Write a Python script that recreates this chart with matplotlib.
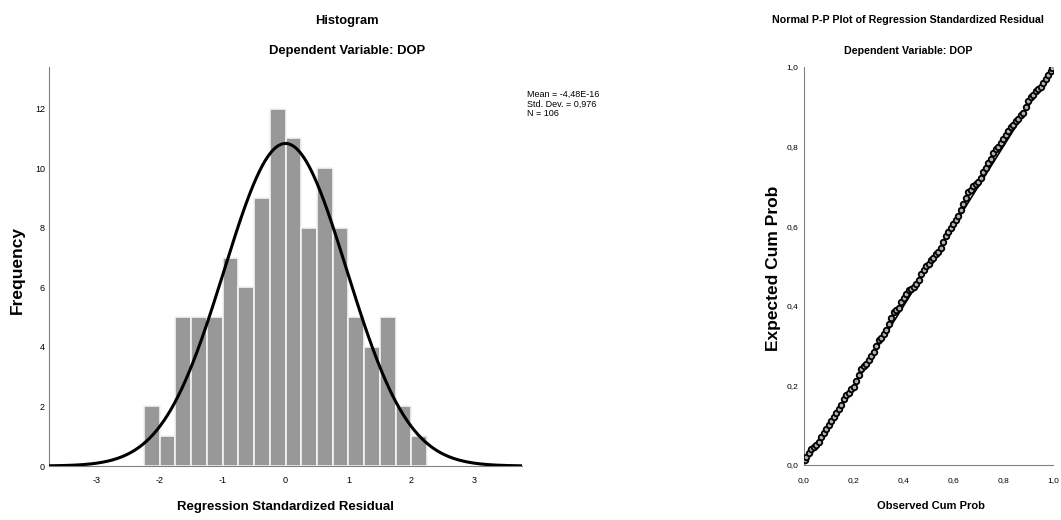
import matplotlib.pyplot as plt
import numpy as np

plt.rcParams['font.family'] = ['Liberation Sans', 'DejaVu Sans']

# Histogram data (bin edges -2.25 .. 2.25, width 0.25)
bin_edges = [-2.25, -2.0, -1.75, -1.5, -1.25, -1.0, -0.75, -0.5, -0.25, 0.0,
             0.25, 0.5, 0.75, 1.0, 1.25, 1.5, 1.75, 2.0, 2.25]
counts = [2, 1, 5, 5, 5, 7, 6, 9, 12, 11, 8, 10, 8, 5, 4, 5, 2, 1]
resid_mean = -4.48e-16
resid_sd = 0.976
n_obs = 106
hist_xticks = [-3, -2, -1, 0, 1, 2, 3]
hist_yticks = [0, 2, 4, 6, 8, 10, 12]

# P-P plot data (observed vs expected cumulative prob)
observed_cum = [0.005, 0.01, 0.02, 0.03, 0.04, 0.05, 0.06, 0.07, 0.08, 0.09, 0.10,
                0.11, 0.12, 0.13, 0.14, 0.15, 0.16, 0.17, 0.18, 0.19, 0.20,
                0.21, 0.22, 0.23, 0.24, 0.25, 0.26, 0.27, 0.28, 0.29, 0.30,
                0.31, 0.32, 0.33, 0.34, 0.35, 0.36, 0.37, 0.38, 0.39, 0.40,
                0.41, 0.42, 0.43, 0.44, 0.45, 0.46, 0.47, 0.48, 0.49, 0.50,
                0.51, 0.52, 0.53, 0.54, 0.55, 0.56, 0.57, 0.58, 0.59, 0.60,
                0.61, 0.62, 0.63, 0.64, 0.65, 0.66, 0.67, 0.68, 0.69, 0.70,
                0.71, 0.72, 0.73, 0.74, 0.75, 0.76, 0.77, 0.78, 0.79, 0.80,
                0.81, 0.82, 0.83, 0.84, 0.85, 0.86, 0.87, 0.88, 0.89, 0.90,
                0.91, 0.92, 0.93, 0.94, 0.95, 0.96, 0.97, 0.98, 0.99, 0.995]
expected_cum = [0.012, 0.02, 0.03, 0.04, 0.045, 0.05, 0.058, 0.07, 0.08, 0.09, 0.10,
                0.11, 0.12, 0.13, 0.14, 0.15, 0.165, 0.175, 0.18, 0.19, 0.195,
                0.21, 0.225, 0.24, 0.25, 0.255, 0.265, 0.275, 0.285, 0.30, 0.315,
                0.32, 0.33, 0.34, 0.355, 0.37, 0.385, 0.39, 0.395, 0.41, 0.42,
                0.43, 0.44, 0.443, 0.446, 0.455, 0.465, 0.48, 0.49, 0.50, 0.505,
                0.515, 0.52, 0.53, 0.535, 0.545, 0.56, 0.575, 0.585, 0.595, 0.605,
                0.615, 0.625, 0.64, 0.655, 0.67, 0.685, 0.69, 0.70, 0.705, 0.71,
                0.72, 0.735, 0.745, 0.76, 0.77, 0.785, 0.795, 0.80, 0.81, 0.82,
                0.83, 0.84, 0.85, 0.855, 0.865, 0.87, 0.88, 0.885, 0.90, 0.915,
                0.925, 0.93, 0.94, 0.945, 0.95, 0.96, 0.97, 0.98, 0.99, 0.997]
pp_ticks = [0.0, 0.2, 0.4, 0.6, 0.8, 1.0]

W, H = 1061, 520
fig = plt.figure(figsize=(W / 100, H / 100), dpi=100)

# ---- Histogram ----
ax1 = fig.add_axes([49 / W, 1 - 466 / H, 473 / W, 399 / H])
widths = np.diff(bin_edges)
ax1.bar(bin_edges[:-1], counts, width=widths, align='edge',
        color='#989898', edgecolor='#f4f4f4', linewidth=1.2, zorder=2)

bw = widths[0]
xs = np.linspace(-3.76, 3.76, 400)
curve = n_obs * bw / (resid_sd * np.sqrt(2 * np.pi)) * np.exp(-0.5 * ((xs - resid_mean) / resid_sd) ** 2)
ax1.plot(xs, curve, color='black', linewidth=2.2, zorder=3)

ax1.set_xlim(-3.76, 3.76)
ax1.set_ylim(0, 13.4)
ax1.set_xticks(hist_xticks)
ax1.set_yticks(hist_yticks)
ax1.set_xticklabels([str(t) for t in hist_xticks])
ax1.tick_params(axis='y', length=0, labelsize=6.5, pad=3)
ax1.tick_params(axis='x', length=0, labelsize=6.5, pad=7)
for s in ['top', 'right']:
    ax1.spines[s].set_visible(False)
for s in ['left', 'bottom']:
    ax1.spines[s].set_color('#808080')
ax1.set_ylabel('Frequency', fontsize=12.5, fontweight='bold')
ax1.yaxis.set_label_coords((25 - 49) / 473, 0.49)
ax1.set_xlabel('Regression Standardized Residual', fontsize=9.5, fontweight='bold')
ax1.xaxis.set_label_coords(0.5, -(501 - 466) / 399)

fig.text(347 / W, 1 - 21 / H, 'Histogram', ha='center', va='center',
         fontsize=9.3, fontweight='bold')
fig.text(347 / W, 1 - 51 / H, 'Dependent Variable: DOP', ha='center', va='center',
         fontsize=9.4, fontweight='bold')
fig.text(527 / W, 1 - 90 / H,
         'Mean = -4,48E-16\nStd. Dev. = 0,976\nN = 106',
         ha='left', va='top', fontsize=6.5, linespacing=1.05)

# ---- P-P plot ----
ax2 = fig.add_axes([804 / W, 1 - 465 / H, 249 / W, 398 / H])
ax2.plot([0, 1], [0, 1], color='black', linewidth=1.2, zorder=2)
ax2.plot(observed_cum, expected_cum, linestyle='none', marker='o', markersize=4,
         markerfacecolor='#b0b0b0', markeredgecolor='black', markeredgewidth=1.3, zorder=3)
ax2.set_xlim(0, 1)
ax2.set_ylim(0, 1)
ax2.set_xticks(pp_ticks)
ax2.set_yticks(pp_ticks)
ax2.set_xticklabels([f'{t:.1f}'.replace('.', ',') for t in pp_ticks])
ax2.set_yticklabels([f'{t:.1f}'.replace('.', ',') for t in pp_ticks])
ax2.tick_params(axis='y', length=0, labelsize=6, pad=4)
ax2.tick_params(axis='x', length=0, labelsize=6, pad=9)
for s in ['top', 'right']:
    ax2.spines[s].set_visible(False)
for s in ['left', 'bottom']:
    ax2.spines[s].set_color('#808080')
ax2.set_ylabel('Expected Cum Prob', fontsize=12.5, fontweight='bold')
ax2.yaxis.set_label_coords((781 - 804) / 249, 0.495)
ax2.set_xlabel('Observed Cum Prob', fontsize=8, fontweight='bold')
ax2.xaxis.set_label_coords(0.51, -(501 - 465) / 398)

fig.text(908 / W, 1 - 20 / H, 'Normal P-P Plot of Regression Standardized Residual',
         ha='center', va='center', fontsize=7.7, fontweight='bold')
fig.text(908 / W, 1 - 51 / H, 'Dependent Variable: DOP', ha='center', va='center',
         fontsize=7.7, fontweight='bold')

fig.savefig('out.png', dpi=100)
